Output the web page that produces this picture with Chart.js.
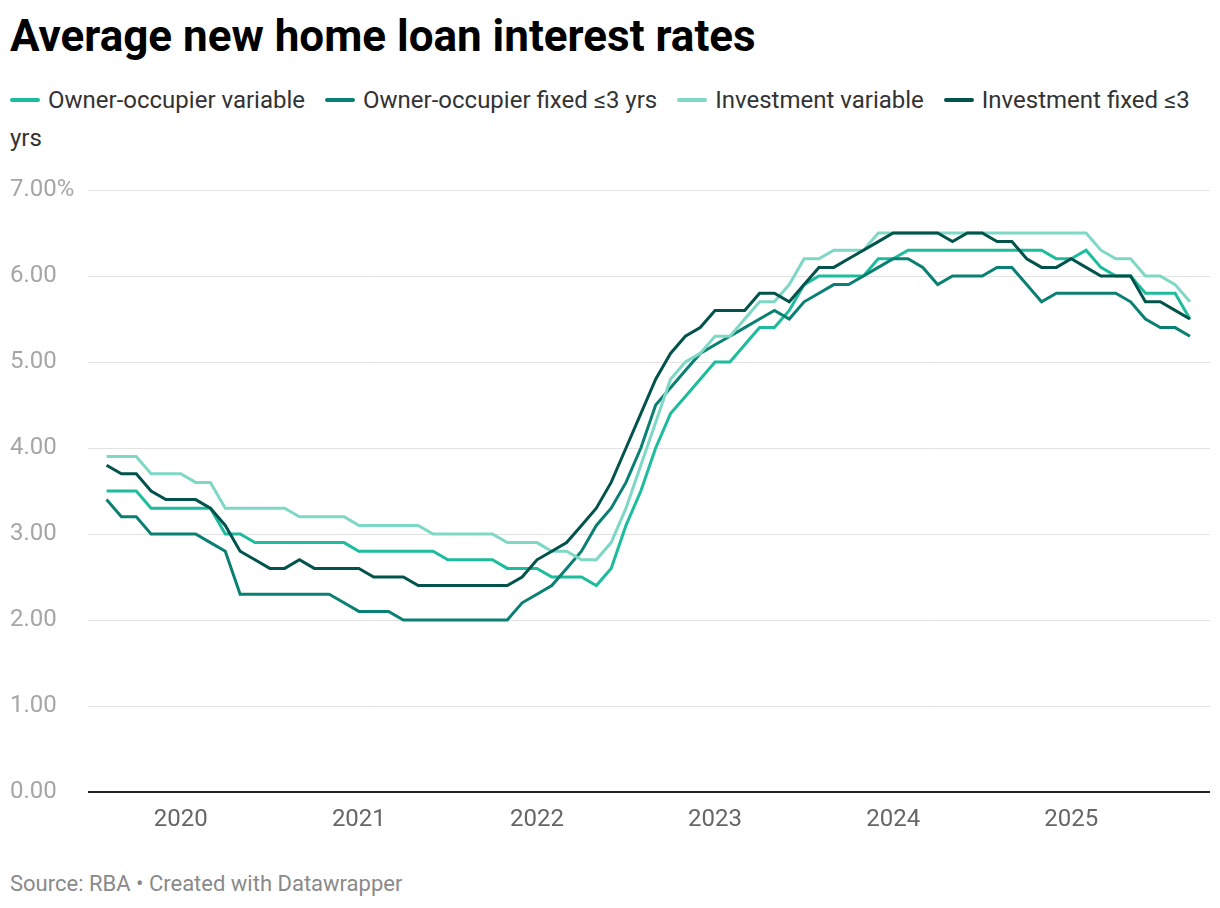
<!DOCTYPE html>
<html>
<head>
<meta charset="utf-8">
<script src="https://cdn.jsdelivr.net/npm/chart.js@4.4.1/dist/chart.umd.min.js"></script>
<style>
  body { margin: 0; background: #fff; font-family: Roboto, "Noto Sans", sans-serif; width: 1220px; height: 908px; position: relative; overflow: hidden; }
  h1 { position: absolute; left: 10px; top: 14px; margin: 0; font-size: 44px; line-height: 44px; font-weight: 700; color: #000; }
  .legend { position: absolute; left: 10px; top: 81px; width: 1200px; font-size: 24px; line-height: 38px; color: #333; }
  .legend span { margin-right: 20px; }
  .legend i { display: inline-block; width: 30px; height: 4px; border-radius: 2px; vertical-align: middle; margin-right: 8px; position: relative; top: -2px; }
  .chart-box { position: absolute; left: 10px; top: 170px; width: 1200px; height: 664px; }
  .source { position: absolute; left: 10px; top: 871px; font-size: 22px; color: #8a8a8a; }
</style>
</head>
<body>
<h1>Average new home loan interest rates</h1>
<div class="legend"></div>
<div class="chart-box"><canvas id="myChart"></canvas></div>
<div class="source">Source: RBA • Created with Datawrapper</div>
<script>
// monthly, Aug 2019 - Sep 2025
const months = [
  "2019-08","2019-09","2019-10","2019-11","2019-12",
  "2020-01","2020-02","2020-03","2020-04","2020-05","2020-06","2020-07","2020-08","2020-09","2020-10","2020-11","2020-12",
  "2021-01","2021-02","2021-03","2021-04","2021-05","2021-06","2021-07","2021-08","2021-09","2021-10","2021-11","2021-12",
  "2022-01","2022-02","2022-03","2022-04","2022-05","2022-06","2022-07","2022-08","2022-09","2022-10","2022-11","2022-12",
  "2023-01","2023-02","2023-03","2023-04","2023-05","2023-06","2023-07","2023-08","2023-09","2023-10","2023-11","2023-12",
  "2024-01","2024-02","2024-03","2024-04","2024-05","2024-06","2024-07","2024-08","2024-09","2024-10","2024-11","2024-12",
  "2025-01","2025-02","2025-03","2025-04","2025-05","2025-06","2025-07","2025-08","2025-09"
];

const ownerVariable = [
  3.5,3.5,3.5,3.3,3.3,
  3.3,3.3,3.3,3.0,3.0,2.9,2.9,2.9,2.9,2.9,2.9,2.9,
  2.8,2.8,2.8,2.8,2.8,2.8,2.7,2.7,2.7,2.7,2.6,2.6,
  2.6,2.5,2.5,2.5,2.4,2.6,3.1,3.5,4.0,4.4,4.6,4.8,
  5.0,5.0,5.2,5.4,5.4,5.6,5.9,6.0,6.0,6.0,6.0,6.2,
  6.2,6.3,6.3,6.3,6.3,6.3,6.3,6.3,6.3,6.3,6.3,6.2,
  6.2,6.3,6.1,6.0,6.0,5.8,5.8,5.8,5.5
];
const ownerFixed = [
  3.4,3.2,3.2,3.0,3.0,
  3.0,3.0,2.9,2.8,2.3,2.3,2.3,2.3,2.3,2.3,2.3,2.2,
  2.1,2.1,2.1,2.0,2.0,2.0,2.0,2.0,2.0,2.0,2.0,2.2,
  2.3,2.4,2.6,2.8,3.1,3.3,3.6,4.0,4.5,4.7,4.9,5.1,
  5.2,5.3,5.4,5.5,5.6,5.5,5.7,5.8,5.9,5.9,6.0,6.1,
  6.2,6.2,6.1,5.9,6.0,6.0,6.0,6.1,6.1,5.9,5.7,5.8,
  5.8,5.8,5.8,5.8,5.7,5.5,5.4,5.4,5.3
];
const investVariable = [
  3.9,3.9,3.9,3.7,3.7,
  3.7,3.6,3.6,3.3,3.3,3.3,3.3,3.3,3.2,3.2,3.2,3.2,
  3.1,3.1,3.1,3.1,3.1,3.0,3.0,3.0,3.0,3.0,2.9,2.9,
  2.9,2.8,2.8,2.7,2.7,2.9,3.3,3.8,4.3,4.8,5.0,5.1,
  5.3,5.3,5.5,5.7,5.7,5.9,6.2,6.2,6.3,6.3,6.3,6.5,
  6.5,6.5,6.5,6.5,6.5,6.5,6.5,6.5,6.5,6.5,6.5,6.5,
  6.5,6.5,6.3,6.2,6.2,6.0,6.0,5.9,5.7
];
const investFixed = [
  3.8,3.7,3.7,3.5,3.4,
  3.4,3.4,3.3,3.1,2.8,2.7,2.6,2.6,2.7,2.6,2.6,2.6,
  2.6,2.5,2.5,2.5,2.4,2.4,2.4,2.4,2.4,2.4,2.4,2.5,
  2.7,2.8,2.9,3.1,3.3,3.6,4.0,4.4,4.8,5.1,5.3,5.4,
  5.6,5.6,5.6,5.8,5.8,5.7,5.9,6.1,6.1,6.2,6.3,6.4,
  6.5,6.5,6.5,6.5,6.4,6.5,6.5,6.4,6.4,6.2,6.1,6.1,
  6.2,6.1,6.0,6.0,6.0,5.7,5.7,5.6,5.5
];

const seriesNames = ["Owner-occupier variable", "Owner-occupier fixed ≤3 yrs", "Investment variable", "Investment fixed ≤3 yrs"];
const seriesColors = ["#1cbc9c", "#0a8073", "#7fd8c6", "#02534b"];
const seriesValues = [ownerVariable, ownerFixed, investVariable, investFixed];
const yTicks = [0, 1, 2, 3, 4, 5, 6, 7];

// legend (html so it wraps like the original)
let legend = document.querySelector(".legend");
seriesNames.forEach((name, i) => {
  let item = document.createElement("span");
  item.innerHTML = `<i style="background:${seriesColors[i]}"></i>${name}`;
  legend.appendChild(item);
});

// tick positions at january of each year
let janTicks = [];
months.forEach((m, i) => {
  if (m.endsWith("-01")) janTicks.push(i);
});

// last dataset in the legend drawn on top
let datasets = seriesValues.map((vals, i) => ({
  label: seriesNames[i],
  data: vals.map((v, j) => ({ x: j, y: v })),
  borderColor: seriesColors[i],
  borderWidth: 3,
  pointRadius: 0,
  tension: 0,
  fill: false,
  order: seriesValues.length - i,
}));

var ctx = document.getElementById("myChart");
var myChart = new Chart(ctx, {
  type: "line",
  data: { datasets: datasets },
  options: {
    responsive: true,
    maintainAspectRatio: false,
    animation: false,
    layout: { padding: { top: 20, right: 0, left: 0, bottom: 0 } },
    plugins: { legend: { display: false }, tooltip: { enabled: false } },
    scales: {
      x: {
        type: "linear",
        min: -1.25,
        max: 74.35,
        afterBuildTicks: (scale) => {
          scale.ticks = janTicks.map((v) => ({ value: v }));
        },
        afterFit: (scale) => { scale.height = 42; },
        grid: { display: false },
        border: { display: false },
        ticks: {
          padding: 6,
          autoSkip: false,
          maxRotation: 0,
          color: "#666",
          font: { family: "Roboto", size: 24 },
          callback: (v) => months[v] ? months[v].slice(0, 4) : "",
        },
      },
      y: {
        min: 0,
        max: 7,
        afterBuildTicks: (scale) => {
          scale.ticks = yTicks.map((v) => ({ value: v }));
        },
        afterFit: (scale) => { scale.width = 78; },
        border: { display: false },
        grid: {
          drawTicks: false,
          color: (c) => (c.tick && c.tick.value === 0 ? "#222" : "#e2e2e2"),
          lineWidth: (c) => (c.tick && c.tick.value === 0 ? 2 : 1),
        },
        ticks: {
          crossAlign: "far",
          padding: 0,
          color: "#a6a6a6",
          font: { family: "Roboto", size: 24 },
          callback: (v) => (v === 7 ? v.toFixed(2) + "%" : v.toFixed(2)),
        },
      },
    },
  },
});
</script>
</body>
</html>
